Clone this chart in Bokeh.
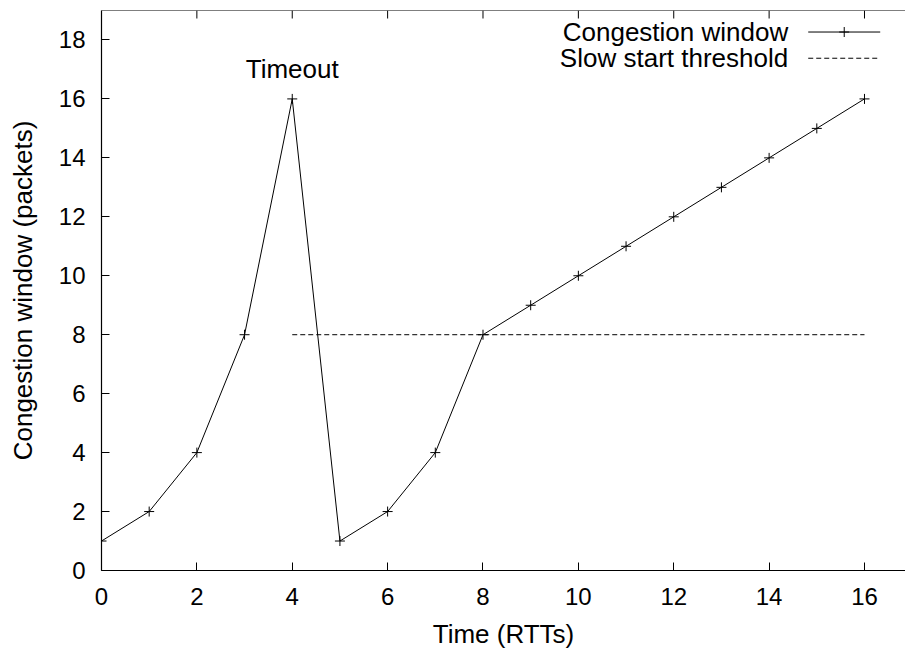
from bokeh.plotting import figure
from bokeh.models import Range1d, FixedTicker, Label, Span
from bokeh.embed import file_html
from bokeh.resources import INLINE

# ---- data ----
time_rtt = [0, 1, 2, 3, 4, 5, 6, 7, 8, 9, 10, 11, 12, 13, 14, 15, 16]
cwnd = [1, 2, 4, 8, 16, 1, 2, 4, 8, 9, 10, 11, 12, 13, 14, 15, 16]
ssthresh_x = [4, 16]
ssthresh_y = [8, 8]
x_ticks = [0, 2, 4, 6, 8, 10, 12, 14, 16]
y_ticks = [0, 2, 4, 6, 8, 10, 12, 14, 16, 18]
series_names = ["Congestion window", "Slow start threshold"]
timeout_text = "Timeout"

FONT = "Liberation Sans"
TICK_FS = "24px"
TEXT_FS = "26px"
X_MAX, Y_MAX = 16.86, 19

p = figure(width=905, height=652, output_backend="svg", toolbar_location=None,
           x_range=Range1d(0, X_MAX), y_range=Range1d(0, Y_MAX),
           min_border_left=101, min_border_right=0, min_border_top=10,
           min_border_bottom=82,
           x_axis_label="Time (RTTs)", y_axis_label="Congestion window (packets)")
p.grid.visible = False
p.outline_line_color = None
p.background_fill_color = "white"
p.border_fill_color = "white"

p.xaxis.ticker = FixedTicker(ticks=x_ticks)
p.yaxis.ticker = FixedTicker(ticks=y_ticks)

for ax in list(p.xaxis) + list(p.yaxis):
    ax.major_tick_in = 8
    ax.major_tick_out = 0
    ax.minor_tick_line_color = None
    ax.axis_line_color = "black"
    ax.major_tick_line_color = "black"
    ax.axis_line_width = 1.2
    ax.major_label_text_font = FONT
    ax.major_label_text_font_size = TICK_FS
    ax.major_label_text_color = "black"
    ax.axis_label_text_font = FONT
    ax.axis_label_text_font_size = TEXT_FS
    ax.axis_label_text_font_style = "normal"
    ax.axis_label_text_color = "black"

p.xaxis.major_label_standoff = 17
p.xaxis.axis_label_standoff = 11
p.yaxis.major_label_standoff = 16
p.yaxis.axis_label_standoff = 18

# top border with inward ticks (gnuplot mirror ticks)
p.add_layout(Span(location=Y_MAX, dimension="width", line_color="black", line_width=1.2))
tick_len = 8 * Y_MAX / 560
p.segment(x0=x_ticks, y0=[Y_MAX] * len(x_ticks), x1=x_ticks,
          y1=[Y_MAX - tick_len] * len(x_ticks), line_color="black", line_width=1)

# congestion window
p.line(time_rtt, cwnd, line_color="black", line_width=1)
p.scatter(time_rtt, cwnd, marker="cross", size=10, line_color="black", line_width=1)

# slow start threshold
p.line(ssthresh_x, ssthresh_y, line_color="black", line_width=1, line_dash="5 3")

# timeout annotation
peak_i = cwnd.index(max(cwnd))
p.add_layout(Label(x=time_rtt[peak_i], y=17, text=timeout_text, text_align="center",
                   text_baseline="middle", text_font=FONT, text_font_size=TEXT_FS,
                   text_color="black"))

# legend (gnuplot style: label left, sample right)
leg_text_x = 14.40
leg_x0, leg_x1 = 14.82, 16.33
leg_rows = [18.27, 17.38]
for name, yy in zip(series_names, leg_rows):
    p.add_layout(Label(x=leg_text_x, y=yy, text=name, text_align="right",
                       text_baseline="middle", text_font=FONT, text_font_size=TEXT_FS,
                       text_color="black"))
p.line([leg_x0, leg_x1], [leg_rows[0]] * 2, line_color="black", line_width=1)
p.scatter([(leg_x0 + leg_x1) / 2], [leg_rows[0]], marker="cross", size=10,
          line_color="black", line_width=1)
p.line([leg_x0, leg_x1], [leg_rows[1]] * 2, line_color="black", line_width=1,
       line_dash="5 3")

open("out.html", "w").write(file_html(p, INLINE))
